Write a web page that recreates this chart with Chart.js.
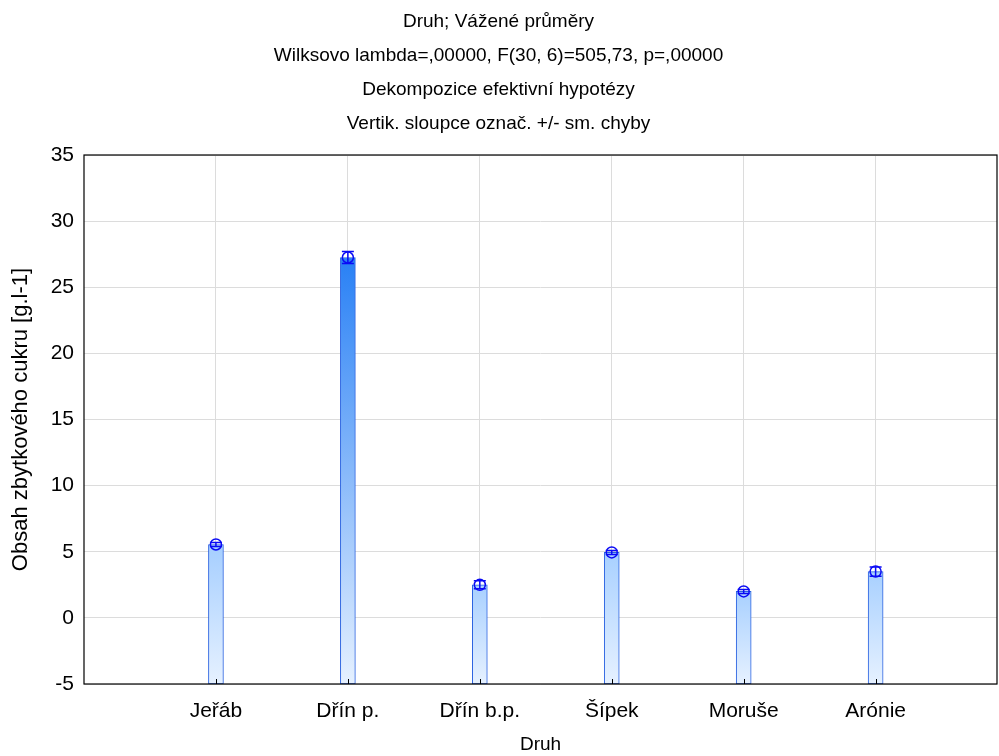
<!DOCTYPE html>
<html>
<head>
<meta charset="utf-8">
<script src="https://cdn.jsdelivr.net/npm/chart.js@4"></script>
<style>
  html, body { margin: 0; padding: 0; background: #ffffff; }
  #wrap { width: 999px; height: 756px; position: relative; }
</style>
</head>
<body>
<div id="wrap"><canvas id="chart" width="999" height="756"></canvas></div>
<script>
// Residual sugar by fruit species: weighted means with +/- standard error
const categories = ['Jeřáb', 'Dřín p.', 'Dřín b.p.', 'Šípek', 'Moruše', 'Arónie'];
const positions = [1, 2, 3, 4, 5, 6];
const means = [5.55, 27.25, 2.5, 4.95, 2.0, 3.5];
const stdErrors = [0.15, 0.45, 0.3, 0.15, 0.15, 0.35];
const barBase = -5;
const titleLines = [
  'Druh; Vážené průměry',
  'Wilksovo lambda=,00000, F(30, 6)=505,73, p=,00000',
  'Dekompozice efektivní hypotézy',
  'Vertik. sloupce označ. +/- sm. chyby'
];
const yTitle = 'Obsah zbytkového cukru [g.l-1]';
const xTitle = 'Druh';

const FONT = "'Liberation Sans', Arial, sans-serif";

// colour of the bar top depends on how tall the bar is
function mix(a, b, t) {
  return a.map((v, i) => Math.round(v + (b[i] - v) * t));
}
function topColour(value) {
  const light = [168, 208, 255], dark = [40, 128, 245];
  const t = Math.min(1, Math.max(0, (value - 5) / 22));
  const c = mix(light, dark, t);
  return `rgb(${c[0]},${c[1]},${c[2]})`;
}

const frameAndErrors = {
  id: 'frameAndErrors',
  afterDatasetsDraw(chart) {
    const { ctx, chartArea: a, scales: { x, y } } = chart;
    ctx.save();
    // inner tick marks on the category axis
    ctx.strokeStyle = '#000';
    ctx.lineWidth = 1;
    positions.forEach(p => {
      const px = Math.round(x.getPixelForValue(p)) + 0.5;
      ctx.beginPath();
      ctx.moveTo(px, a.bottom);
      ctx.lineTo(px, a.bottom - 5);
      ctx.stroke();
    });
    // error bars with circle markers
    ctx.strokeStyle = '#0a0af5';
    ctx.lineWidth = 1.5;
    means.forEach((m, i) => {
      const px = x.getPixelForValue(positions[i]);
      const yTop = y.getPixelForValue(m + stdErrors[i]);
      const yBot = y.getPixelForValue(m - stdErrors[i]);
      const yMid = y.getPixelForValue(m);
      ctx.beginPath();
      ctx.moveTo(px, yTop); ctx.lineTo(px, yBot);
      ctx.moveTo(px - 6, yTop); ctx.lineTo(px + 6, yTop);
      ctx.moveTo(px - 6, yBot); ctx.lineTo(px + 6, yBot);
      ctx.stroke();
      ctx.beginPath();
      ctx.arc(px, yMid, 5.5, 0, Math.PI * 2);
      ctx.stroke();
    });
    // plot frame
    ctx.strokeStyle = '#000';
    ctx.lineWidth = 1.2;
    ctx.strokeRect(a.left, a.top, a.right - a.left, a.bottom - a.top);
    ctx.restore();
  }
};

new Chart(document.getElementById('chart'), {
  type: 'bar',
  data: {
    datasets: [{
      data: positions.map((p, i) => ({ x: p, y: [barBase, means[i]] })),
      barThickness: 15,
      borderWidth: 1,
      borderSkipped: false,
      borderColor: '#2a62e0',
      backgroundColor(ctx) {
        const chart = ctx.chart;
        const { scales } = chart;
        if (!scales || !scales.y || ctx.dataIndex === undefined) return '#a8d0ff';
        const v = means[ctx.dataIndex];
        const y0 = scales.y.getPixelForValue(barBase);
        const y1 = scales.y.getPixelForValue(v);
        if (!isFinite(y0) || !isFinite(y1)) return '#a8d0ff';
        const g = chart.ctx.createLinearGradient(0, y0, 0, y1);
        g.addColorStop(0, 'rgb(230,241,255)');
        g.addColorStop(1, topColour(v));
        return g;
      }
    }]
  },
  options: {
    responsive: false,
    animation: false,
    layout: { padding: { left: 0, right: 2, top: 0, bottom: 0 } },
    plugins: {
      legend: { display: false },
      tooltip: { enabled: false },
      title: {
        display: true,
        text: titleLines,
        color: '#000',
        font: { family: FONT, size: 19, weight: 'normal', lineHeight: 34 / 19 },
        padding: { top: 5, bottom: 14 }
      }
    },
    scales: {
      x: {
        type: 'linear',
        offset: false,
        min: 0,
        max: 6.92,
        afterBuildTicks(scale) { scale.ticks = positions.map(v => ({ value: v })); },
        afterFit(scale) { scale.height = 72; },
        grid: { color: '#dcdcdc', drawTicks: false, offset: false },
        border: { display: false },
        ticks: {
          color: '#000',
          padding: 15,
          maxRotation: 0,
          autoSkip: false,
          font: { family: FONT, size: 21 },
          callback(v) { return categories[positions.indexOf(v)]; }
        },
        title: {
          display: true, text: xTitle, color: '#000',
          font: { family: FONT, size: 19 }, padding: { top: 0, bottom: 0 }
        }
      },
      y: {
        min: -5,
        max: 35,
        afterFit(scale) { scale.width = 84; },
        grid: { color: '#dcdcdc', drawTicks: false },
        border: { display: false },
        ticks: {
          stepSize: 5,
          color: '#000',
          padding: 10,
          font: { family: FONT, size: 21 }
        },
        title: {
          display: true, text: yTitle, color: '#000',
          font: { family: FONT, size: 22 }, padding: { top: 8, bottom: 0 }
        }
      }
    }
  },
  plugins: [frameAndErrors]
});
</script>
</body>
</html>
